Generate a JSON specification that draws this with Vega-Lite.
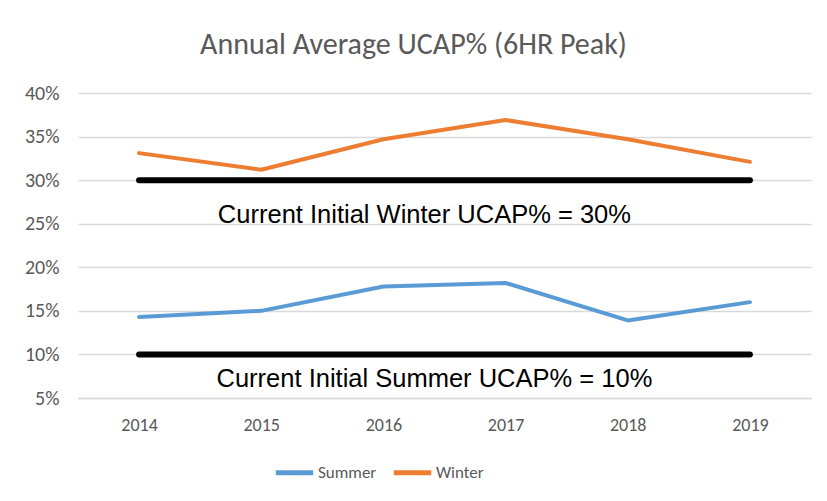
{
  "$schema": "https://vega.github.io/schema/vega-lite/v6.json",
  "width": 733,
  "height": 305,
  "autosize": "none",
  "padding": {"left": 78, "top": 93, "right": 16, "bottom": 103},
  "background": "white",
  "title": {
    "text": "Annual Average UCAP% (6HR Peak)",
    "font": "Carlito, Lato, sans-serif",
    "fontSize": 30,
    "fontWeight": "normal",
    "color": "#595959",
    "offset": 23,
    "dx": -31,
    "anchor": "middle"
  },
  "datasets": {
    "series": [
      {"year": "2014", "season": "Summer", "ucap": 0.143},
      {"year": "2015", "season": "Summer", "ucap": 0.150},
      {"year": "2016", "season": "Summer", "ucap": 0.178},
      {"year": "2017", "season": "Summer", "ucap": 0.182},
      {"year": "2018", "season": "Summer", "ucap": 0.139},
      {"year": "2019", "season": "Summer", "ucap": 0.160},
      {"year": "2014", "season": "Winter", "ucap": 0.331},
      {"year": "2015", "season": "Winter", "ucap": 0.312},
      {"year": "2016", "season": "Winter", "ucap": 0.347},
      {"year": "2017", "season": "Winter", "ucap": 0.369},
      {"year": "2018", "season": "Winter", "ucap": 0.347},
      {"year": "2019", "season": "Winter", "ucap": 0.321}
    ],
    "thresholds": [
      {"year": "2014", "which": "Winter", "ucap": 0.30},
      {"year": "2019", "which": "Winter", "ucap": 0.30},
      {"year": "2014", "which": "Summer", "ucap": 0.10},
      {"year": "2019", "which": "Summer", "ucap": 0.10}
    ],
    "notes": [
      {"year": "2016", "which": "Winter", "ucap": 0.30, "label": "Current Initial Winter UCAP% = 30%"},
      {"year": "2016", "which": "Summer", "ucap": 0.10, "label": "Current Initial Summer UCAP% = 10%"}
    ]
  },
  "encoding": {
    "x": {
      "field": "year",
      "type": "ordinal",
      "scale": {"type": "point", "padding": 0.5, "domain": ["2014", "2015", "2016", "2017", "2018", "2019"]},
      "axis": {
        "title": null,
        "labelAngle": 0,
        "ticks": false,
        "domainColor": "#d9d9d9",
        "domainWidth": 1.5,
        "labelFont": "Carlito, Lato, sans-serif",
        "labelFontSize": 18,
        "labelColor": "#595959",
        "labelPadding": 18,
        "grid": false
      }
    },
    "y": {
      "field": "ucap",
      "type": "quantitative",
      "scale": {"domain": [0.05, 0.40], "nice": false, "zero": false},
      "axis": {
        "title": null,
        "format": ".0%",
        "values": [0.05, 0.10, 0.15, 0.20, 0.25, 0.30, 0.35, 0.40],
        "ticks": false,
        "domain": false,
        "gridColor": "#d9d9d9",
        "gridWidth": 1.5,
        "labelFont": "Carlito, Lato, sans-serif",
        "labelFontSize": 20,
        "labelColor": "#595959",
        "labelPadding": 19
      }
    }
  },
  "layer": [
    {
      "data": {"name": "thresholds"},
      "mark": {"type": "line", "color": "black", "strokeWidth": 6, "strokeCap": "round"},
      "encoding": {"detail": {"field": "which"}}
    },
    {
      "data": {"name": "series"},
      "mark": {"type": "line", "strokeWidth": 4, "strokeCap": "round", "strokeJoin": "round"},
      "encoding": {
        "color": {
          "field": "season",
          "type": "nominal",
          "scale": {"domain": ["Summer", "Winter"], "range": ["#5B9BD5", "#ED7D31"]},
          "legend": {
            "title": null,
            "orient": "none",
            "legendX": 195,
            "legendY": 358,
            "direction": "horizontal",
            "symbolType": "stroke",
            "symbolSize": 1400,
            "symbolStrokeWidth": 5,
            "labelFont": "Carlito, Lato, sans-serif",
            "labelFontSize": 17,
            "labelColor": "#595959",
            "labelOffset": 2,
            "columnPadding": 6
          }
        }
      }
    },
    {
      "data": {"name": "notes"},
      "transform": [{"filter": "datum.which === 'Winter'"}],
      "mark": {"type": "text", "font": "Liberation Sans", "fontSize": 25.5, "color": "black", "align": "center", "baseline": "alphabetic", "dx": 41, "dy": 43},
      "encoding": {"text": {"field": "label"}}
    },
    {
      "data": {"name": "notes"},
      "transform": [{"filter": "datum.which === 'Summer'"}],
      "mark": {"type": "text", "font": "Liberation Sans", "fontSize": 25.5, "color": "black", "align": "center", "baseline": "alphabetic", "dx": 51, "dy": 33},
      "encoding": {"text": {"field": "label"}}
    }
  ],
  "config": {"view": {"stroke": null}}
}
